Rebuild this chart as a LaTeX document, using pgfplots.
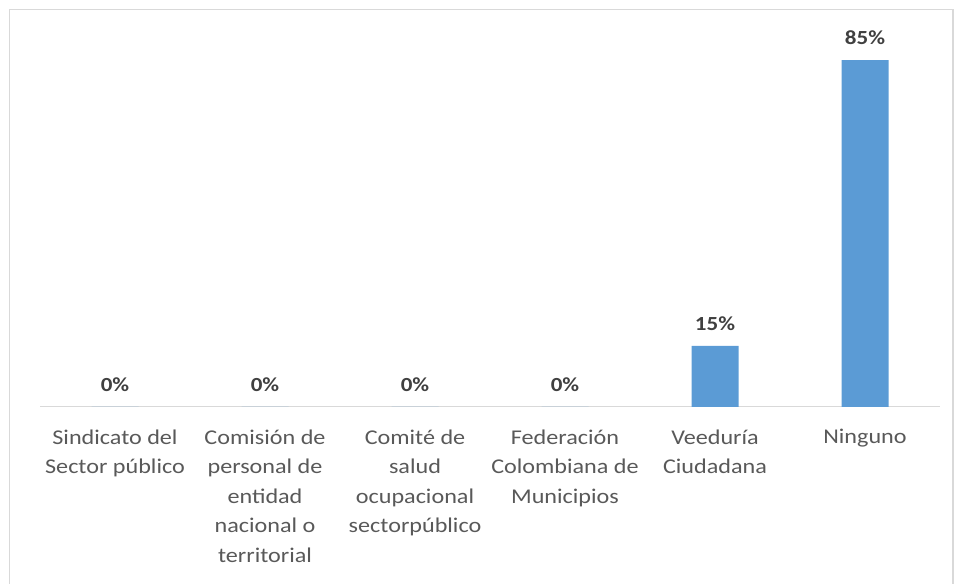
\documentclass[border=0pt]{standalone}
\usepackage{fontspec}
\setmainfont{Carlito}
\newfontfamily\widefont{Carlito}[FakeStretch=1.15]
\usepackage{pgfplots}
\pgfplotsset{compat=1.18}
\definecolor{barblue}{HTML}{5B9BD5}
\definecolor{txtgray}{HTML}{595959}
\definecolor{lblgray}{HTML}{404040}
\definecolor{framegray}{HTML}{D9D9D9}
\begin{document}
\begin{tikzpicture}
  \useasboundingbox (0,0) rectangle (956bp,584bp);
  \draw[framegray, line width=1.5bp] (9.5bp,-5bp) -- (9.5bp,574.5bp) -- (953bp,574.5bp) -- (953bp,-5bp);
  \begin{axis}[
      at={(40bp,177bp)}, anchor=south west,
      scale only axis,
      x=150bp, y=4.08bp,
      xmin=-0.5, xmax=5.5, ymin=0, ymax=98,
      ybar, bar width=47bp,
      axis y line=none,
      axis x line*=bottom,
      x axis line style={framegray, line width=1bp, -},
      xtick=data, major tick length=0pt,
      xticklabels={{Sindicato del\\Sector público},{Comisión de\\personal de\\entidad\\nacional o\\territorial},{Comité de\\salud\\ocupacional\\sectorpúblico},{Federación\\Colombiana de\\Municipios},{Veeduría\\Ciudadana},{Ninguno}},
      xticklabel style={font=\widefont\fontsize{21bp}{29.5bp}\selectfont, text=txtgray, align=center, anchor=north, yshift=-19bp},
      nodes near coords={\pgfmathprintnumber{\pgfplotspointmeta}\%},
      nodes near coords style={font=\widefont\fontsize{20bp}{22bp}\selectfont\bfseries, text=lblgray, anchor=south, yshift=12bp},
      /pgf/number format/assume math mode=true,
    ]
    \addplot[fill=barblue, draw=none] coordinates {
      (0,0) (1,0) (2,0) (3,0) (4,15) (5,85)
    };
  \end{axis}
\end{tikzpicture}
\end{document}
